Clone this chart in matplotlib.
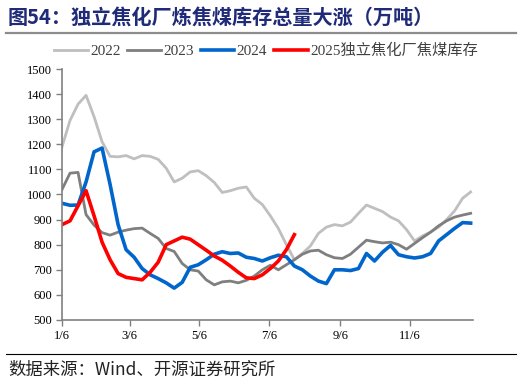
import numpy as np
import matplotlib
matplotlib.use("Agg")
import matplotlib.pyplot as plt
from matplotlib.lines import Line2D

plt.rcParams['font.family'] = ['Liberation Serif', 'Noto Sans CJK SC', 'DejaVu Sans']

# weekly stocks (10k tonnes), first point at 1/6, one point per week
s2022 = [1190, 1295, 1360, 1395, 1310, 1210, 1152, 1150, 1155, 1142, 1155, 1152, 1140,
         1105, 1050, 1065, 1090, 1095, 1075, 1048, 1008, 1015, 1025, 1030, 985, 960,
         915, 865, 800, 740, 765, 795, 845, 870, 880, 875, 890, 925, 958, 945,
         932, 910, 895, 860, 815, 835, 850, 870, 900, 935, 985, 1010]
s2023 = [1020, 1085, 1088, 920, 878, 848, 838, 850, 858, 864, 866, 845, 825,
         785, 773, 725, 700, 695, 660, 640, 652, 655, 648, 658, 675, 700,
         718, 700, 720, 740, 762, 775, 778, 760, 748, 745, 762, 790, 818, 812,
         807, 810, 800, 782, 805, 828, 850, 875, 895, 910, 918, 925]
s2024 = [965, 957, 958, 1050, 1170, 1185, 1040, 880, 780, 750, 705, 680, 665,
         648, 627, 650, 710, 720, 740, 762, 772, 765, 767, 750, 745, 735,
         748, 758, 752, 715, 700, 675, 655, 645, 700, 700, 697, 705, 765, 735,
         770, 797, 760, 752, 747, 752, 765, 815, 840, 865, 888, 886]
s2025 = [880, 895, 955, 1015, 915, 810, 740, 685, 670, 665, 660, 690, 730,
         800, 815, 830, 822, 800, 778, 755, 738, 715, 690, 668, 665, 680,
         705, 735, 780, 840]

tick_days = [0, 59, 120, 181, 243, 304]
tick_labels = ['1/6', '3/6', '5/6', '7/6', '9/6', '11/6']
yticks = np.arange(500, 1501, 100)

fig = plt.figure(figsize=(5.22, 3.84), dpi=100)
ax = fig.add_axes([0.1188, 0.1667, 0.7872, 0.6536])

ax.plot(np.arange(len(s2022)) * 7, s2022, color='#BFBFBF', lw=2.0, label='2022')
ax.plot(np.arange(len(s2023)) * 7, s2023, color='#7F7F7F', lw=2.0, label='2023')
ax.plot(np.arange(len(s2024)) * 7, s2024, color='#0066CC', lw=2.6, label='2024')
ax.plot(np.arange(len(s2025)) * 7, s2025, color='#FF0000', lw=2.6, label='2025独立焦化厂焦煤库存')

ax.set_xlim(0, 359)
ax.set_ylim(500, 1500)
ax.set_xticks(tick_days)
ax.set_xticklabels(tick_labels)
ax.set_yticks(yticks)
ax.tick_params(axis='both', labelsize=9, colors='#808080', length=4, width=1, labelcolor='black', pad=3)
for s in ['top', 'right']:
    ax.spines[s].set_visible(False)
for s in ['left', 'bottom']:
    ax.spines[s].set_color('#808080')
    ax.spines[s].set_linewidth(1.2)

leg = ax.legend(loc='lower left', bbox_to_anchor=(-0.045, 1.0), ncol=4, frameon=False,
                fontsize=11, handlelength=2.2, handletextpad=0.15, columnspacing=0.45,
                borderaxespad=0.3)
for t in leg.get_texts():
    t.set_color('#404040')

fig.text(0.015, 0.955, '图54：独立焦化厂炼焦煤库存总量大涨（万吨）', fontsize=14.5, fontweight='bold',
         color='#1F2A78', family=['Noto Sans CJK SC', 'DejaVu Sans'], va='center')
fig.add_artist(Line2D([0.012, 0.988], [0.914, 0.914], color='#8C8C8C', lw=1.6))
fig.add_artist(Line2D([0.012, 0.988], [0.078, 0.078], color='black', lw=0.8))
fig.text(0.015, 0.036, '数据来源：Wind、开源证券研究所', fontsize=12.5, color='#222222',
         family=['Noto Sans CJK SC', 'DejaVu Sans'], va='center')

fig.savefig('out.png', dpi=100)
